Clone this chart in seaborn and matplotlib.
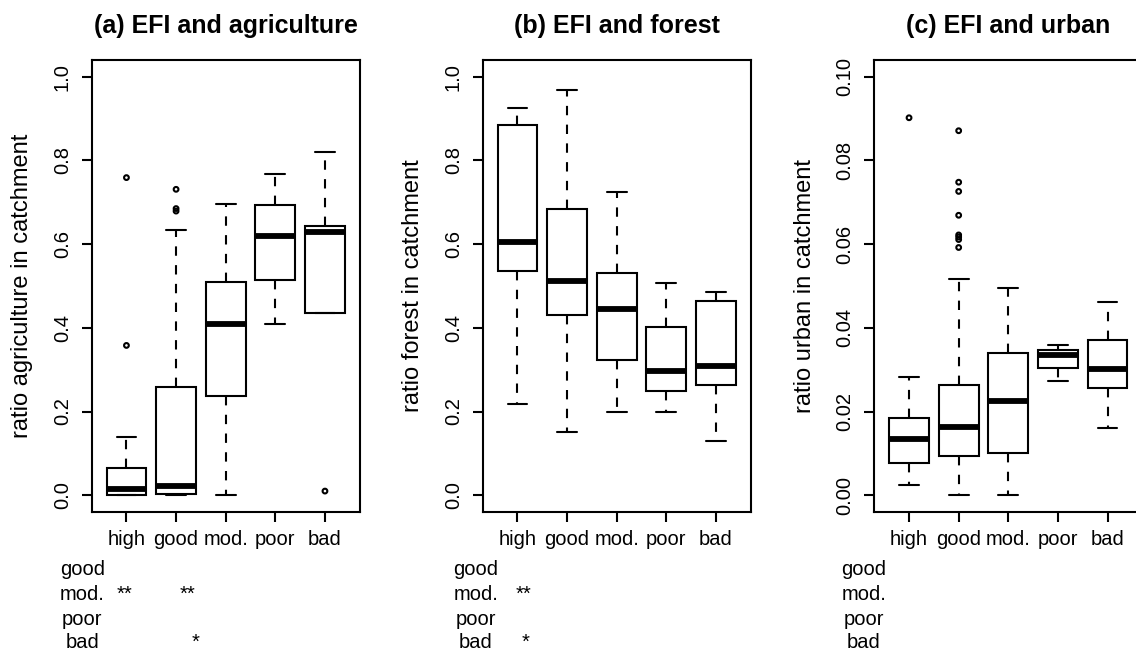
import numpy as np
import pandas as pd
import matplotlib
matplotlib.use("Agg")
import matplotlib.pyplot as plt
import seaborn as sns

# ---------------- data ----------------
categories = ["high", "good", "mod.", "poor", "bad"]

# (a) agriculture : lower whisker, Q1, median, Q3, upper whisker
agri_low = [0.000, 0.000, 0.000, 0.409, 0.436]
agri_q1 = [0.001, 0.003, 0.236, 0.514, 0.436]
agri_med = [0.016, 0.022, 0.409, 0.619, 0.628]
agri_q3 = [0.064, 0.259, 0.510, 0.693, 0.644]
agri_high = [0.140, 0.633, 0.695, 0.767, 0.821]
agri_out_cat = ["high", "high", "good", "good", "good", "bad"]
agri_out_val = [0.759, 0.358, 0.731, 0.685, 0.679, 0.010]

# (b) forest
forest_low = [0.219, 0.151, 0.198, 0.198, 0.129]
forest_q1 = [0.537, 0.431, 0.323, 0.248, 0.264]
forest_med = [0.606, 0.512, 0.446, 0.297, 0.310]
forest_q3 = [0.884, 0.683, 0.532, 0.402, 0.465]
forest_high = [0.925, 0.968, 0.725, 0.508, 0.485]
forest_out_cat = []
forest_out_val = []

# (c) urban
urban_low = [0.0025, 0.0000, 0.0000, 0.0274, 0.0160]
urban_q1 = [0.0076, 0.0095, 0.0100, 0.0304, 0.0257]
urban_med = [0.0135, 0.0164, 0.0225, 0.0335, 0.0302]
urban_q3 = [0.0184, 0.0264, 0.0340, 0.0348, 0.0371]
urban_high = [0.0283, 0.0516, 0.0495, 0.0360, 0.0461]
urban_out_cat = ["high", "good", "good", "good", "good", "good", "good", "good", "good"]
urban_out_val = [0.0902, 0.0871, 0.0748, 0.0726, 0.0669, 0.0622, 0.0617, 0.0611, 0.0592]

yticks_frac = [0.0, 0.2, 0.4, 0.6, 0.8, 1.0]
yticklabels_frac = ["0.0", "0.2", "0.4", "0.6", "0.8", "1.0"]
yticks_urban = [0.00, 0.02, 0.04, 0.06, 0.08, 0.10]
yticklabels_urban = ["0.00", "0.02", "0.04", "0.06", "0.08", "0.10"]

titles = ["(a) EFI and agriculture", "(b) EFI and forest", "(c) EFI and urban"]
ylabels = ["ratio agriculture in catchment", "ratio forest in catchment",
           "ratio urban in catchment"]

sig_rows = ["good", "mod.", "poor", "bad"]
agri_sig_marks = ["**", "**", "*"]
agri_sig_rows = ["mod.", "mod.", "bad"]
forest_sig_marks = ["**", "*"]
forest_sig_rows = ["mod.", "bad"]
urban_sig_marks = []
urban_sig_rows = []

# ---------------- style ----------------
sns.set_style("ticks", rc={
    "axes.edgecolor": "black", "xtick.color": "black", "ytick.color": "black",
    "text.color": "black", "axes.labelcolor": "black", "axes.linewidth": 1.5,
})
plt.rcParams["font.family"] = ["Liberation Sans", "DejaVu Sans"]

W, H = 1136, 650
fig = plt.figure(figsize=(W / 100, H / 100), dpi=100)


def fx(px):
    return px / W


def fy(py):
    return 1 - py / H


ax_top, ax_bot = 60, 512
panel_left = [91.7, 482.7, 874.3]
panel_w = 268.0
axes = [fig.add_axes([fx(l), fy(ax_bot), panel_w / W, (ax_bot - ax_top) / H])
        for l in panel_left]


def draw_panel(ax, low, q1, med, q3, hi, out_cat, out_val, ylim, yticks,
               yticklabels, ylabel, title):
    rows = []
    for c, a, b, m, d, e in zip(categories, low, q1, med, q3, hi):
        for v in (a, b, m, d, e):
            rows.append({"EFI": c, "value": v})
    df = pd.DataFrame(rows)
    sns.boxplot(data=df, x="EFI", y="value", order=categories, whis=(0, 100),
                showfliers=False, width=0.8, color="white", linecolor="black",
                linewidth=1.5, saturation=1,
                medianprops=dict(linewidth=4.2, solid_capstyle="butt"),
                whiskerprops=dict(linestyle=(0, (4.5, 4.5))),
                ax=ax)
    if len(out_val):
        sns.stripplot(x=out_cat, y=out_val, order=categories, jitter=False,
                      color="black", edgecolor="black", facecolor="none",
                      size=3.4, linewidth=1.5, ax=ax)
    ax.set_xlim(-0.7, 4.7)
    ax.set_ylim(*ylim)
    ax.set_xticks(range(len(categories)))
    ax.set_xticklabels(categories, fontsize=14.5)
    ax.set_yticks(yticks)
    ax.set_yticklabels(yticklabels, fontsize=14.5, rotation=90, va="center")
    ax.tick_params(axis="both", direction="out", length=7.2, width=1.5)
    ax.tick_params(axis="x", pad=6)
    ax.tick_params(axis="y", pad=7)
    ax.set_xlabel("")
    ax.set_ylabel(ylabel, fontsize=17)
    ax.yaxis.label.set_verticalalignment("center")
    ax.yaxis.set_label_coords(-69.5 / panel_w, 0.5)
    for s in ax.spines.values():
        s.set_visible(True)
        s.set_linewidth(1.5)
    ax.text(0.5, 1 + 26.7 / (ax_bot - ax_top), title, transform=ax.transAxes,
            ha="center", va="baseline", fontsize=18, fontweight="bold")


draw_panel(axes[0], agri_low, agri_q1, agri_med, agri_q3, agri_high,
           agri_out_cat, agri_out_val, (-0.04, 1.04), yticks_frac,
           yticklabels_frac, ylabels[0], titles[0])
draw_panel(axes[1], forest_low, forest_q1, forest_med, forest_q3, forest_high,
           forest_out_cat, forest_out_val, (-0.04, 1.04), yticks_frac,
           yticklabels_frac, ylabels[1], titles[1])
draw_panel(axes[2], urban_low, urban_q1, urban_med, urban_q3, urban_high,
           urban_out_cat, urban_out_val, (-0.004, 0.104), yticks_urban,
           yticklabels_urban, ylabels[2], titles[2])

# ---------------- significance tables ----------------
row_baseline = {"good": 575, "mod.": 600, "poor": 625, "bad": 647.5}
row_label_x = [82.3, 475.8, 863.8]
sig_x = [[124.2, 187.5, 196.0], [523.3, 525.5], []]
sig_marks = [agri_sig_marks, forest_sig_marks, urban_sig_marks]
sig_rows_of = [agri_sig_rows, forest_sig_rows, urban_sig_rows]

for p in range(3):
    for r in sig_rows:
        fig.text(fx(row_label_x[p]), fy(row_baseline[r]), r, ha="center",
                 va="baseline", fontsize=14.5)
    for m, r, x in zip(sig_marks[p], sig_rows_of[p], sig_x[p]):
        fig.text(fx(x), fy(row_baseline[r]), m, ha="center", va="baseline",
                 fontsize=14.5)

fig.savefig("out.png", dpi=100)
